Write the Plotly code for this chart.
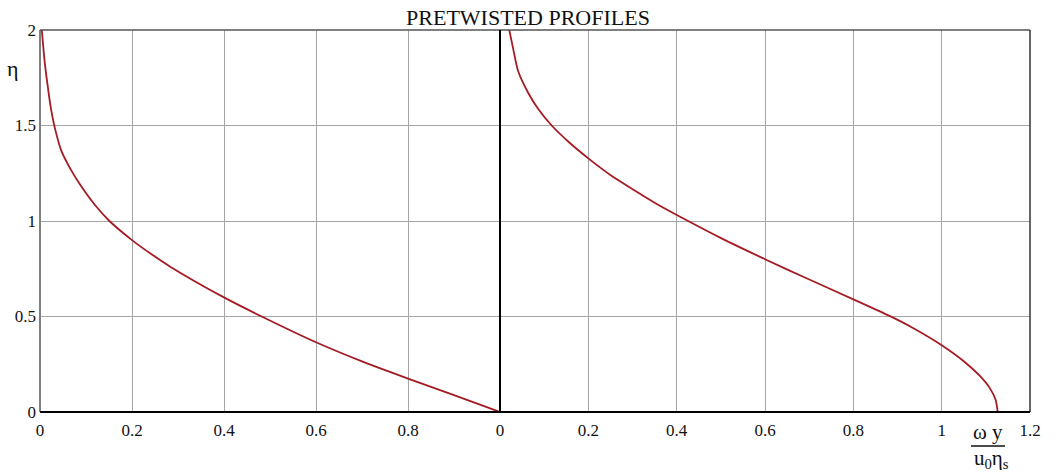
import plotly.graph_objects as go
from plotly.subplots import make_subplots

title_text = "PRETWISTED PROFILES"

# left panel profile (x in [0,1])
left_x = [0.004, 0.010, 0.016, 0.023, 0.032, 0.046, 0.068, 0.090, 0.119, 0.151,
          0.2, 0.249, 0.283, 0.4, 0.482, 0.6, 0.70, 0.80, 0.90, 1.0]
left_eta = [2.0, 1.836, 1.72, 1.60, 1.49, 1.37, 1.265, 1.18, 1.085, 1.0,
            0.90, 0.815, 0.761, 0.60, 0.50, 0.365, 0.265, 0.175, 0.088, 0.0]

# right panel profile (x in [0,1.2])
right_x = [0.021, 0.030, 0.041, 0.064, 0.087, 0.117, 0.155, 0.2, 0.253, 0.305,
           0.358, 0.411, 0.505, 0.6, 0.694, 0.80, 0.882, 0.935, 1.0, 1.048,
           1.086, 1.109, 1.122, 1.127]
right_eta = [2.0, 1.90, 1.785, 1.67, 1.585, 1.50, 1.415, 1.328, 1.236, 1.16,
             1.085, 1.018, 0.905, 0.80, 0.70, 0.59, 0.503, 0.44, 0.35, 0.27,
             0.19, 0.125, 0.065, 0.0]

left_ticks = [0, 0.2, 0.4, 0.6, 0.8]
left_ticktext = ["0", "0.2", "0.4", "0.6", "0.8"]
right_ticks = [0, 0.2, 0.4, 0.6, 0.8, 1.0, 1.2]
right_ticktext = ["0", "0.2", "0.4", "0.6", "0.8", "1", "1.2"]
y_ticks = [0, 0.5, 1, 1.5, 2]
y_ticktext = ["0", "0.5", "1", "1.5", "2"]

W, H = 1057, 474
L, R, T, B = 40, 1030, 30, 412
split_px = 500
d = (split_px - L) / (R - L)

FONT = "Liberation Serif, Times New Roman, serif"
LINE = "#a31c24"
GRID = "#a6a6a6"

fig = make_subplots(rows=1, cols=2, shared_yaxes=True, horizontal_spacing=0,
                    column_widths=[d, 1 - d])

fig.add_trace(go.Scatter(x=left_x, y=left_eta, mode="lines",
                         line=dict(color=LINE, width=1.8, shape="spline", smoothing=0.6),
                         showlegend=False, hoverinfo="skip"), row=1, col=1)
fig.add_trace(go.Scatter(x=right_x, y=right_eta, mode="lines",
                         line=dict(color=LINE, width=1.8, shape="spline", smoothing=0.6),
                         showlegend=False, hoverinfo="skip"), row=1, col=2)

axis_common = dict(showgrid=True, gridcolor=GRID, gridwidth=1, zeroline=False,
                   ticks="", tickfont=dict(family=FONT, size=17, color="#111"),
                   fixedrange=True)

fig.update_xaxes(range=[0, 1], tickvals=left_ticks, ticktext=left_ticktext,
                 showline=False, ticklabelstandoff=6, **axis_common, row=1, col=1)
fig.update_xaxes(range=[0, 1.2], tickvals=right_ticks, ticktext=right_ticktext,
                 showline=False, ticklabelstandoff=6, **axis_common, row=1, col=2)
fig.update_yaxes(range=[0, 2], tickvals=y_ticks, ticktext=y_ticktext,
                 showline=False, ticklabelstandoff=3, **axis_common, row=1, col=1)
fig.update_yaxes(range=[0, 2], tickvals=y_ticks, showline=False, **axis_common, row=1, col=2)

shapes = [
    dict(type="line", xref="paper", yref="paper", x0=0, x1=0, y0=0, y1=1,
         line=dict(color="#808080", width=2)),
    dict(type="line", xref="paper", yref="paper", x0=0, x1=1, y0=1, y1=1,
         line=dict(color="#555555", width=1.5)),
    dict(type="line", xref="paper", yref="paper", x0=1, x1=1, y0=0, y1=1,
         line=dict(color="#333333", width=1.5)),
    dict(type="line", xref="paper", yref="paper", x0=d, x1=d, y0=0, y1=1,
         line=dict(color="#000000", width=2)),
    dict(type="line", xref="paper", yref="paper", x0=0, x1=1, y0=0, y1=0,
         line=dict(color="#000000", width=2)),
]

def px_x(p):
    return (p - L) / (R - L)

def px_y(p):
    return (B - p) / (B - T)

# fraction bar of x label
shapes.append(dict(type="line", xref="paper", yref="paper",
                   x0=px_x(971), x1=px_x(1005), y0=px_y(446), y1=px_y(446),
                   line=dict(color="#111", width=1.5)))

annotations = [
    dict(text="η", xref="paper", yref="paper", x=px_x(13), y=px_y(68),
         showarrow=False, font=dict(family=FONT, size=22, color="#111"),
         xanchor="center", yanchor="middle"),
    dict(text="ω y", xref="paper", yref="paper", x=px_x(988), y=px_y(432),
         showarrow=False, font=dict(family=FONT, size=21, color="#111"),
         xanchor="center", yanchor="middle"),
    dict(text="u<sub>0</sub>η<sub>s</sub>", xref="paper", yref="paper",
         x=px_x(991), y=px_y(459), showarrow=False,
         font=dict(family=FONT, size=21, color="#111"),
         xanchor="center", yanchor="middle"),
]

fig.update_layout(
    width=W, height=H,
    margin=dict(l=L, r=W - R, t=T, b=H - B),
    paper_bgcolor="white", plot_bgcolor="white",
    title=dict(text=title_text, x=528 / W, xanchor="center",
               y=1 - 17 / H, yanchor="middle",
               font=dict(family=FONT, size=22, color="#111")),
    shapes=shapes, annotations=annotations,
)

fig.write_html("out.html", config={"displayModeBar": False},
               post_script="document.body.style.margin='0px';")
